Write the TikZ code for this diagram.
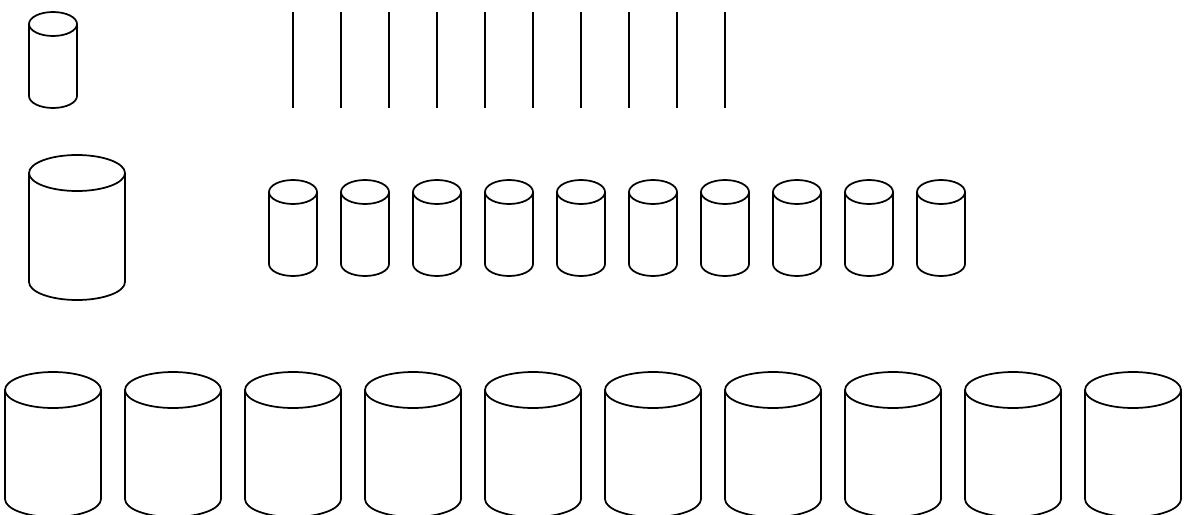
\documentclass[tikz,border=0pt]{standalone}
\usetikzlibrary{positioning}

\begin{document}
\begin{tikzpicture}[
  x=0.75pt, y=-0.75pt,
  line width=1.3pt, line join=round,
  % can: radius, half height of the lid, wall height
  pics/can/.style n args={3}{code={
    \draw (0,0) ellipse[x radius=#1, y radius=#2];
    \draw (-#1,0) -- (-#1,#3) arc[start angle=180, end angle=0,
      x radius=#1, y radius=#2] -- (#1,0);
  }},
]

% Frame
\clip (0,0) rectangle (1184,514);

% ---- Top left ----
\pic at (53,24) {can={24}{12}{72}};
\pic at (77,173) {can={48}{18}{109}};

% ---- Thin rods ----
\foreach \i in {0,...,9}
  \draw (293+48*\i,12) -- (293+48*\i,108);

% ---- Middle row ----
\foreach \i in {0,...,9}
  \pic at (293+72*\i,192) {can={24}{12}{72}};

% ---- Bottom row ----
\foreach \i in {0,...,9}
  \pic at (53+120*\i,390) {can={48}{18}{109}};

\end{tikzpicture}
\end{document}
